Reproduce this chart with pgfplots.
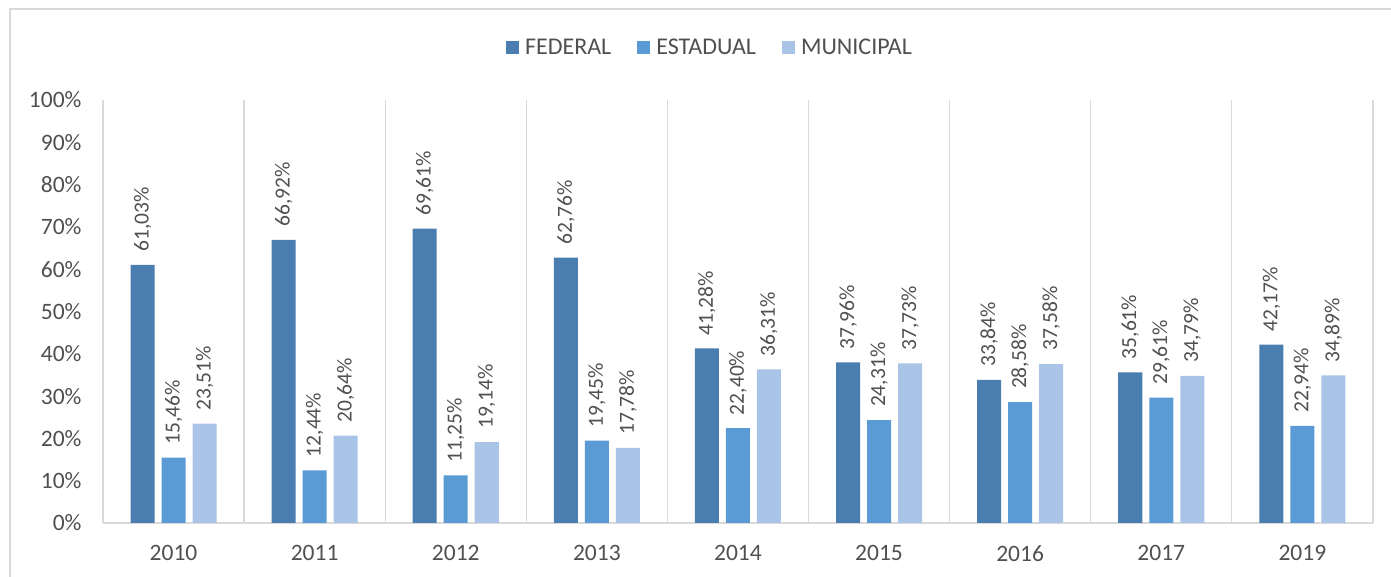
\documentclass[border=0pt]{standalone}
\usepackage{pgfplots}
\pgfplotsset{compat=1.18}
\usepackage{fontspec}
\setmainfont{Carlito}
\definecolor{fed}{HTML}{4A7EB1}
\definecolor{est}{HTML}{5B9BD5}
\definecolor{mun}{HTML}{A9C4E6}
\definecolor{txt}{HTML}{505050}
\definecolor{sep}{HTML}{D9D9D9}
\pgfplotstableread{
x fed est mun
0 61.03 15.46 23.51
1 66.92 12.44 20.64
2 69.61 11.25 19.14
3 62.76 19.45 17.78
4 41.28 22.40 36.31
5 37.96 24.31 37.73
6 33.84 28.58 37.58
7 35.61 29.61 34.79
8 42.17 22.94 34.89
}\datatable
\begin{document}
\begin{tikzpicture}[font=\fontsize{23.5}{27}\selectfont, text=txt]
\path[use as bounding box] (-103pt,-54pt) rectangle (1288pt,523pt);
\draw[sep, line width=1.2pt] (-93pt,-80pt) -- (-93pt,514pt) -- (1320pt,514pt);
\begin{axis}[
  at={(0pt,0pt)}, anchor=south west,
  scale only axis, width=1270pt, height=423pt,
  ybar=7pt, bar width=24pt,
  xmin=-0.5, xmax=8.5, ymin=0, ymax=100,
  xtick=data, xticklabels={2010,2011,2012,2013,2014,2015,2016,2017,2019},
  ytick={0,10,...,100},
  yticklabels={0\%,10\%,20\%,30\%,40\%,50\%,60\%,70\%,80\%,90\%,100\%},
  major tick length=0pt, minor tick length=0pt,
  minor xtick={-0.5,0.5,...,8.5},
  xminorgrids=true,
  minor grid style={sep, line width=1.2pt},
  axis line style={draw=none},
  extra y ticks={0}, extra y tick labels={},
  extra y tick style={grid=major, major grid style={sep, line width=1.5pt}},
  yticklabel style={xshift=-18pt, text=txt},
  xticklabel style={yshift=-19pt, text=txt},
  /pgf/number format/assume math mode=true,
  nodes near coords={\pgfmathprintnumber[fixed,fixed zerofill,precision=2,use comma]{\pgfplotspointmeta}\%},
  every node near coord/.append style={rotate=90, anchor=west, inner xsep=13pt, font=\fontsize{21.5}{25}\selectfont, text=txt},
  legend columns=3,
  legend style={at={(0.478,1.123)}, anchor=center, draw=none, fill=none, text=txt,
    font=\fontsize{24}{28}\selectfont,
    /tikz/every even column/.append style={column sep=24pt}},
  clip=false,
]
\addplot[fill=fed, draw=none, legend image code/.code={\fill[fed] (0pt,-6.5pt) rectangle (13pt,6.5pt);}] table[x=x,y=fed]{\datatable};
\addplot[fill=est, draw=none, legend image code/.code={\fill[est] (0pt,-6.5pt) rectangle (13pt,6.5pt);}] table[x=x,y=est]{\datatable};
\addplot[fill=mun, draw=none, legend image code/.code={\fill[mun] (0pt,-6.5pt) rectangle (13pt,6.5pt);}] table[x=x,y=mun]{\datatable};
\legend{\,FEDERAL,\,ESTADUAL,\,MUNICIPAL}
\end{axis}
\end{tikzpicture}
\end{document}
